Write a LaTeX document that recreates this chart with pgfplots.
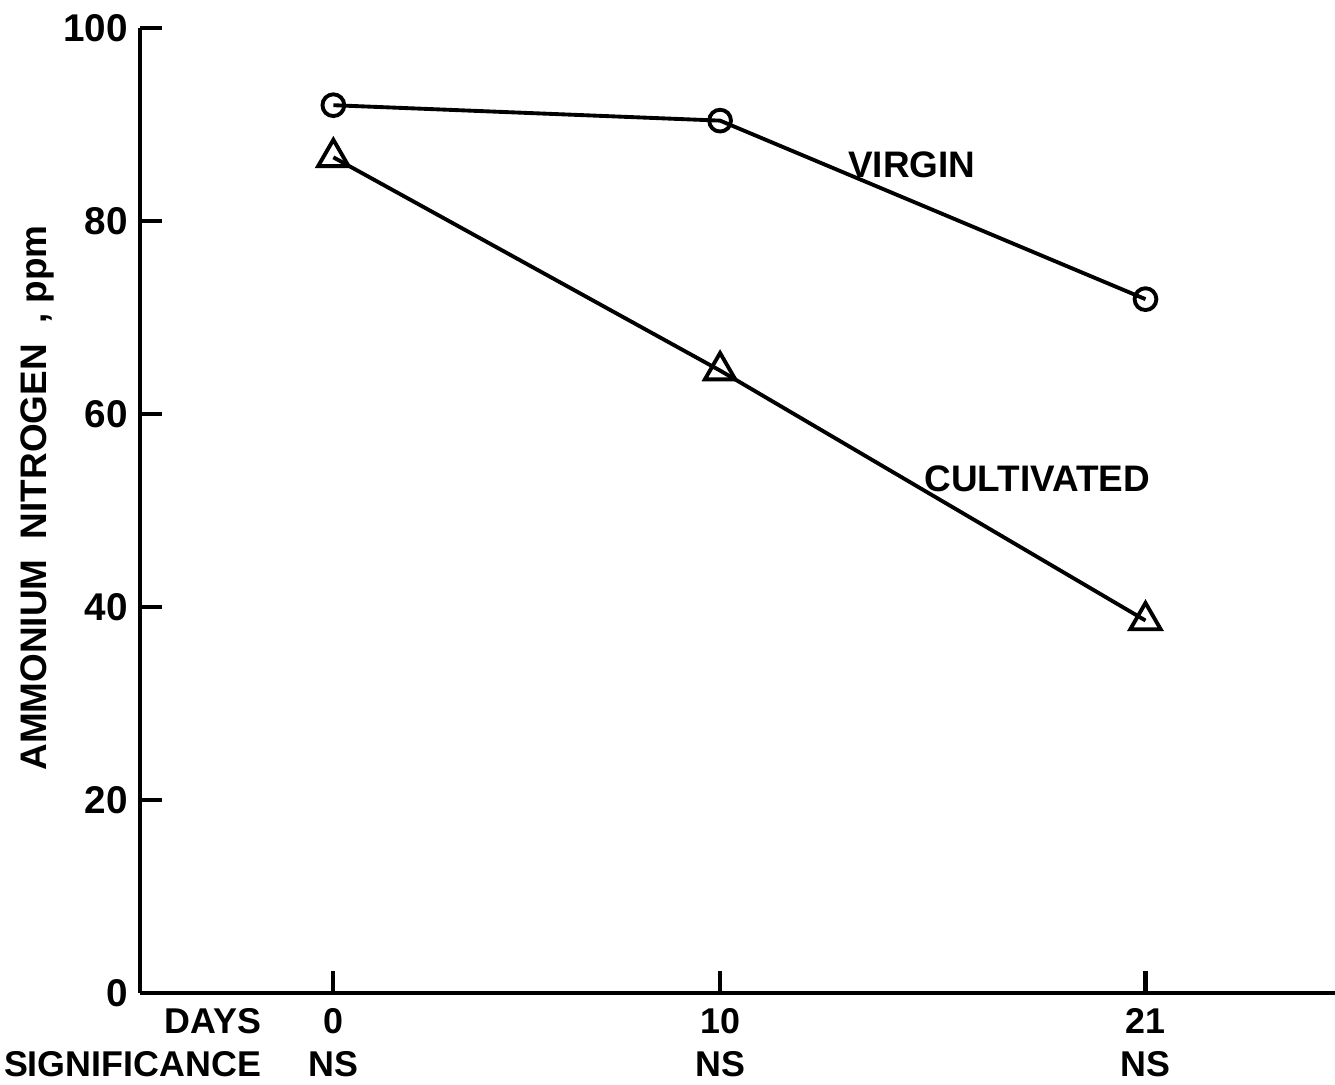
\documentclass[border=0pt]{standalone}
\usepackage{pgfplots}
\pgfplotsset{compat=1.18}
\usepackage{fontspec}
\setmainfont{Liberation Sans}
\begin{document}
\begin{tikzpicture}
\begin{axis}[
  scale only axis,
  width=119.5mm, height=96.5mm,
  xmin=-5, xmax=25.9, ymin=0, ymax=100,
  axis x line*=bottom, axis y line*=left,
  axis line style={line width=1.3pt, -},
  every tick/.style={black, line width=1.2pt},
  tick align=inside,
  ytick={0,20,40,60,80,100},
  xtick={0,10,21},
  xticklabels={{0\\NS},{10\\NS},{21\\NS}},
  xticklabel style={align=center, font=\fontsize{10.2}{12.2}\selectfont\bfseries, inner sep=0.333em, yshift=-0.3mm},
  yticklabel style={font=\fontsize{11}{13}\selectfont\bfseries},
  /pgf/number format/assume math mode=true,
  major tick length=2.2mm,
  ylabel={AMMONIUM\ \ NITROGEN\ \ ,\ ppm},
  ylabel style={font=\fontsize{10.5}{12}\selectfont\bfseries, at={(axis description cs:-0.0862,0.513)}, anchor=center},
  clip=false,
]
\addplot[black, line width=1.1pt, mark=o, mark size=3.1pt, mark options={fill=white, solid, line width=1.1pt}]
  coordinates {(0,92.0) (10,90.4) (21,71.9)};
\addplot[black, line width=1.1pt, mark=triangle, mark size=5pt, mark options={fill=white, solid, line width=1.1pt}]
  coordinates {(0,86.6) (10,64.5) (21,38.6)};
\node[font=\fontsize{10.5}{12}\selectfont\bfseries] at (axis cs:14.96,85.8) {VIRGIN};
\node[font=\fontsize{10.5}{12}\selectfont\bfseries] at (axis cs:18.2,53.3) {CULTIVATED};
\node[font=\fontsize{10.2}{12.2}\selectfont\bfseries, align=right, anchor=north east, inner sep=0.333em, yshift=-0.3mm] at (axis cs:-1.55,0) {DAYS\\SIGNIFICANCE};
\end{axis}
\pgfresetboundingbox
\path ([xshift=-14mm,yshift=-9.2mm]current axis.south west) rectangle ([yshift=2.8mm]current axis.north east);
\end{tikzpicture}
\end{document}
